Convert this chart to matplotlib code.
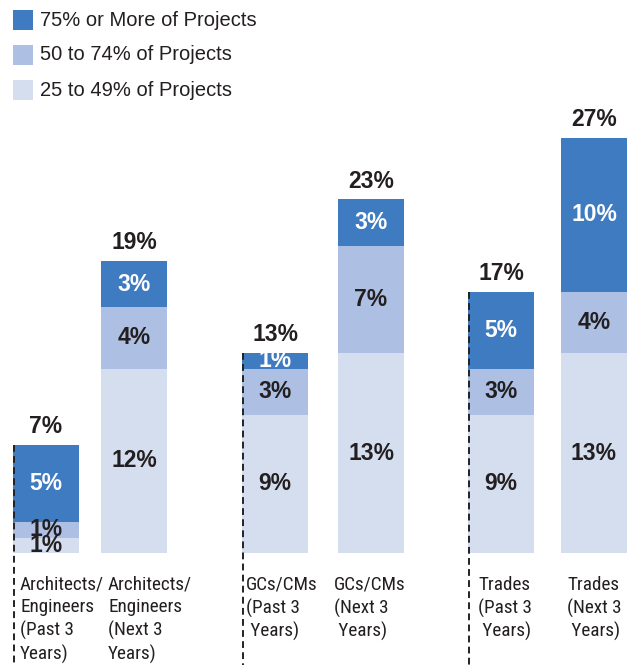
import matplotlib
matplotlib.use("Agg")
import matplotlib.pyplot as plt
from matplotlib.patches import Rectangle
from matplotlib import font_manager

# ---- data ----
categories = ["Architects/\nEngineers\n(Past 3\nYears)",
              "Architects/\nEngineers\n(Next 3\nYears)",
              "GCs/CMs\n(Past 3\n Years)",
              "GCs/CMs\n(Next 3\n Years)",
              "Trades\n(Past 3\n Years)",
              "Trades\n(Next 3\n Years)"]
series_names = ["75% or More of Projects", "50 to 74% of Projects", "25 to 49% of Projects"]
low = [1, 12, 9, 13, 9, 13]      # 25 to 49%
mid = [1, 4, 3, 7, 3, 4]         # 50 to 74%
high = [5, 3, 1, 3, 5, 10]       # 75% or more
totals = [7, 19, 13, 23, 17, 27]
past_flags = [True, False, True, False, True, False]

# ---- layout / style ----
W, H = 630, 665
centers = [46, 134, 275, 371, 501, 594]
bar_w = 66
label_dx = [7, 7, 4, -4, 10, 6]
c_high = "#3f7bc1"
c_mid = "#adbfe2"
c_low = "#d5deef"
txt_dark = "#231f20"

names = {f.name for f in font_manager.fontManager.ttflist}
narrow = "Liberation Sans"
for cand in ["Roboto Condensed", "Archivo Narrow", "PT Sans Narrow", "Liberation Sans Narrow",
             "Fira Sans Condensed", "IBM Plex Sans Condensed", "Encode Sans Condensed",
             "Asap Condensed", "Barlow Semi Condensed"]:
    if cand in names:
        narrow = cand
        break

fig = plt.figure(figsize=(W / 100, H / 100), dpi=100)
ax = fig.add_axes([0, 0, 1, 1])
px_per = 15.37
base_px = 112
ax.set_xlim(0, W)
ax.set_ylim(-base_px / px_per, (H - base_px) / px_per)
ax.axis("off")

bottoms2 = [a + b for a, b in zip(low, mid)]
ax.bar(centers, low, width=bar_w, color=c_low, linewidth=0)
ax.bar(centers, mid, bottom=low, width=bar_w, color=c_mid, linewidth=0)
ax.bar(centers, high, bottom=bottoms2, width=bar_w, color=c_high, linewidth=0)

vfont = dict(family="Liberation Sans", fontweight="bold", fontsize=16.5)
for i, x in enumerate(centers):
    ax.text(x, low[i] / 2, f"{low[i]}%", ha="center", va="center", color=txt_dark, **vfont)
    ax.text(x, low[i] + mid[i] / 2, f"{mid[i]}%", ha="center", va="center", color=txt_dark, **vfont)
    t = ax.text(x, bottoms2[i] + high[i] / 2, f"{high[i]}%", ha="center", va="center",
                color="white", **vfont)
    if high[i] < 2:
        clip = Rectangle((x - bar_w / 2, bottoms2[i]), bar_w, high[i], transform=ax.transData)
        t.set_clip_path(clip)
    ax.annotate(f"{totals[i]}%", (x, totals[i]), xytext=(0, 5), textcoords="offset points",
                ha="center", va="bottom", color=txt_dark, **vfont)
    ax.text(x - bar_w / 2 + label_dx[i], -1.48, categories[i], ha="left", va="top",
            family=narrow, fontsize=13.8, color=txt_dark, linespacing=1.31)
    if past_flags[i]:
        ax.plot([x - bar_w / 2 + 1, x - bar_w / 2 + 1], [totals[i], -base_px / px_per],
                color="#222222", lw=1.4, ls=(0, (3.5, 2.2)), clip_on=False)

# legend
leg_cols = [c_high, c_mid, c_low]
for k, (name, col) in enumerate(zip(series_names, leg_cols)):
    y_top = 10 + 35 * k
    fig.patches.append(Rectangle((13 / W, 1 - (y_top + 20) / H), 20 / W, 20 / H,
                                 transform=fig.transFigure, color=col, linewidth=0))
    fig.text(40 / W, 1 - (y_top + 10) / H, name, ha="left", va="center",
             family="Liberation Sans", fontsize=14.5, color=txt_dark)

fig.savefig("out.png", dpi=100)
